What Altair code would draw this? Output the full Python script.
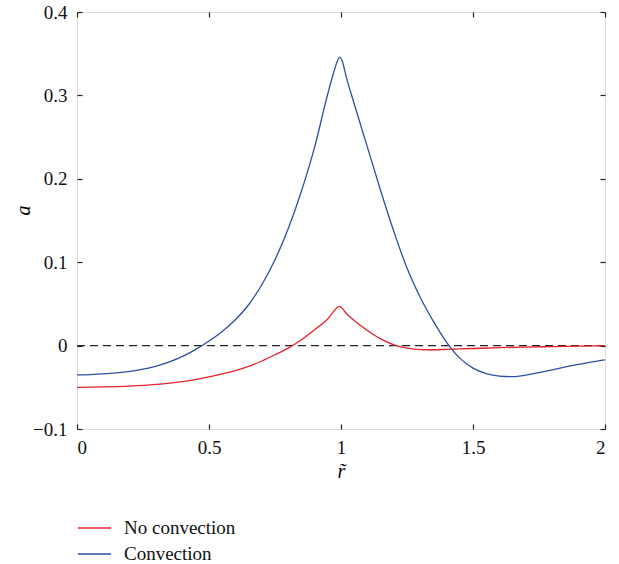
import altair as alt
import pandas as pd

# Convection (blue)
conv_x = [0.00, 0.05, 0.10, 0.15, 0.20, 0.25, 0.30, 0.35, 0.40, 0.45, 0.50, 0.55, 0.60,
          0.65, 0.70, 0.75, 0.80, 0.85, 0.90, 0.95, 0.97, 0.985, 0.995, 1.005, 1.02, 1.05,
          1.10, 1.15, 1.20, 1.25, 1.30, 1.35, 1.40, 1.45, 1.50, 1.55, 1.60, 1.65, 1.70,
          1.75, 1.80, 1.85, 1.90, 1.95, 2.00]
conv_a = [-0.0350, -0.0347, -0.0340, -0.0328, -0.0310, -0.0283, -0.0245, -0.0195, -0.0130,
          -0.0045, 0.0055, 0.0170, 0.0310, 0.0490, 0.0730, 0.1030, 0.1400, 0.1850, 0.2380,
          0.3020, 0.3250, 0.3400, 0.3460, 0.3410, 0.3220, 0.2900, 0.2380, 0.1860, 0.1370,
          0.0930, 0.0580, 0.0290, 0.0040, -0.0150, -0.0270, -0.0335, -0.0365, -0.0372,
          -0.0355, -0.0323, -0.0290, -0.0255, -0.0225, -0.0195, -0.0170]

# No convection (red)
noconv_x = [0.00, 0.10, 0.20, 0.30, 0.40, 0.50, 0.55, 0.60, 0.65, 0.70, 0.75, 0.80, 0.85,
            0.90, 0.95, 0.995, 1.02, 1.05, 1.10, 1.15, 1.20, 1.25, 1.30, 1.35, 1.40, 1.50,
            1.60, 1.70, 1.80, 1.90, 2.00]
noconv_a = [-0.0500, -0.0496, -0.0485, -0.0465, -0.0433, -0.0375, -0.0340, -0.0300, -0.0250,
            -0.0185, -0.0110, -0.0030, 0.0070, 0.0190, 0.0320, 0.0470, 0.0385, 0.0300,
            0.0180, 0.0080, 0.0010, -0.0030, -0.0048, -0.0050, -0.0045, -0.0035, -0.0025,
            -0.0018, -0.0012, -0.0006, 0.0000]

zero_x = [0, 2]
zero_a = [0, 0]

series_names = ["No convection", "Convection"]
series_colors = ["#e8212b", "#2f4fa6"]
x_ticks = [0, 0.5, 1, 1.5, 2]
y_ticks = [-0.1, 0, 0.1, 0.2, 0.3, 0.4]

df = pd.concat([
    pd.DataFrame({"r": noconv_x, "a": noconv_a, "series": "No convection", "order": range(len(noconv_x))}),
    pd.DataFrame({"r": conv_x, "a": conv_a, "series": "Convection", "order": range(len(conv_x))}),
])
zdf = pd.DataFrame({"r": zero_x, "a": zero_a})

FONT = "Liberation Serif"
xscale = alt.Scale(domain=[0, 2], nice=False)
yscale = alt.Scale(domain=[-0.1, 0.4], nice=False)

common_axis = dict(domain=False, grid=False, tickSize=5, offset=-5, tickColor="#222",
                   tickWidth=1.2, labelFont=FONT, labelFontSize=19, labelColor="#111",
                   format="~f")

lines = alt.Chart(df).mark_line(strokeWidth=1.3, interpolate="monotone").encode(
    x=alt.X("r:Q", scale=xscale,
            axis=alt.Axis(values=x_ticks, orient="bottom", title="r\u0303", labelPadding=9,
                          titleFont=FONT, titleFontSize=20, titleFontStyle="italic",
                          titleFontWeight="normal", titleX=264, titleY=47,
                          titleAlign="center", titleBaseline="middle", **common_axis)),
    y=alt.Y("a:Q", scale=yscale,
            axis=alt.Axis(values=y_ticks, orient="left", title="a", labelPadding=10,
                          titleFont=FONT, titleFontSize=20, titleFontStyle="italic",
                          titleFontWeight="normal", titleX=-59, titleY=198, titleAngle=270,
                          titleAlign="center", titleBaseline="middle", **common_axis)),
    color=alt.Color("series:N",
                    scale=alt.Scale(domain=series_names, range=series_colors),
                    sort=series_names,
                    legend=alt.Legend(title=None, orient="none", legendX=0, legendY=506,
                                      symbolType="stroke", symbolSize=1100, symbolStrokeWidth=1.3,
                                      clipHeight=20, rowPadding=6, labelOffset=12,
                                      labelFont=FONT, labelFontSize=19, labelColor="#111")),
    order="order:Q",
)

zero = alt.Chart(zdf).mark_line(strokeDash=[8, 5], strokeWidth=1.3, color="#222").encode(
    x=alt.X("r:Q", scale=xscale,
            axis=alt.Axis(values=x_ticks, orient="top", labels=False, title=None, **common_axis)),
    y=alt.Y("a:Q", scale=yscale,
            axis=alt.Axis(values=y_ticks, orient="right", labels=False, title=None, **common_axis)),
)

chart = alt.layer(zero, lines).resolve_axis(x="independent", y="independent").properties(
    width=528, height=417,
    autosize=alt.AutoSizeParams(type="none"),
    padding={"left": 77, "top": 12, "right": 14, "bottom": 135},
).configure_view(stroke="#222", strokeWidth=1.3).configure(background="white")

chart.save("out.html", embed_options={"renderer": "svg", "actions": False})
